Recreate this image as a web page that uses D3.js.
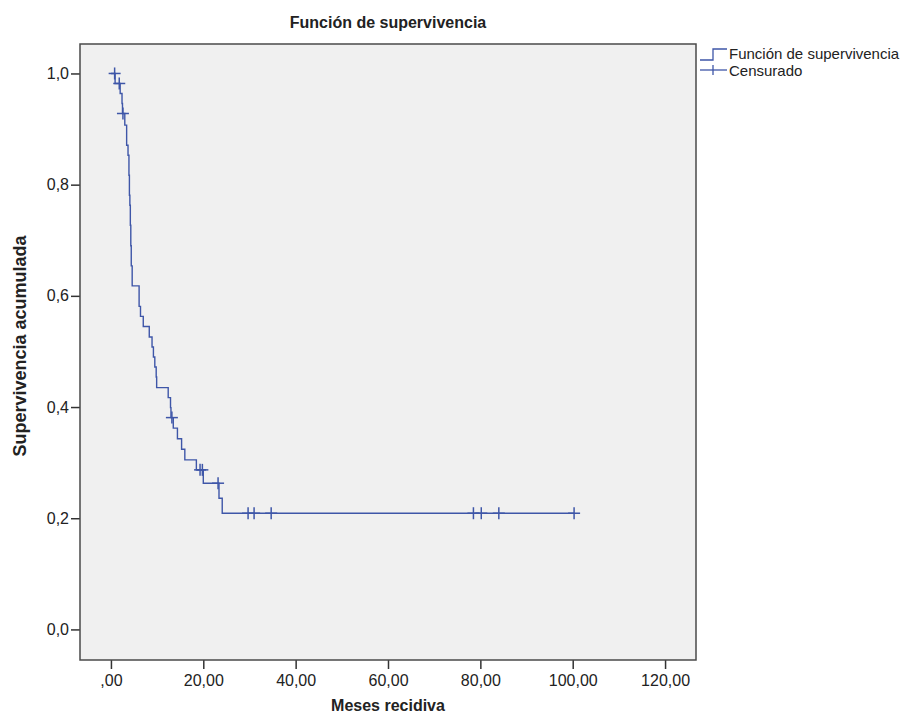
<!DOCTYPE html>
<html>
<head>
<meta charset="utf-8">
<script src="https://cdn.jsdelivr.net/npm/d3@7"></script>
<style>
  body { margin: 0; background: #fff; }
  text { font-family: "Liberation Sans", Arial, sans-serif; fill: #222; }
</style>
</head>
<body>
<div id="chart"></div>
<script>
// Kaplan-Meier steps: event time (months) and survival after it
var eventTimes = [0.9, 2.0, 2.4, 2.5, 3.0, 3.4, 3.7, 3.9, 4.0, 4.1, 4.2, 4.3, 4.4, 4.6,
                  6.1, 6.4, 7.0, 8.3, 8.9, 9.2, 9.5, 9.8, 9.9, 12.4, 12.9, 13.0,
                  13.5, 14.4, 15.3, 16.0, 18.5, 20.0, 23.4, 24.1];
var survival   = [0.982, 0.964, 0.946, 0.928, 0.907, 0.871, 0.853, 0.817, 0.781, 0.763, 0.727, 0.690, 0.654, 0.618,
                  0.581, 0.563, 0.545, 0.526, 0.508, 0.490, 0.472, 0.454, 0.435, 0.417, 0.399, 0.381,
                  0.362, 0.343, 0.324, 0.305, 0.287, 0.263, 0.236, 0.209];
// censored cases (months)
var censored = [0.8, 1.8, 2.6, 13.2, 19.3, 19.8, 23.2, 29.7, 31.0, 34.7, 78.5, 80.2, 84.0, 100.3];

var xTicks = [0, 20, 40, 60, 80, 100, 120];
var yTicks = [0, 0.2, 0.4, 0.6, 0.8, 1.0];

var margin = {top: 44, right: 223, bottom: 66, left: 80},
    width = 919 - margin.left - margin.right,
    height = 726 - margin.top - margin.bottom;

var lineColor = "#3e56a8";

var es = d3.formatLocale({decimal: ",", thousands: ".", grouping: [3], currency: ["", " €"]});

var x = d3.scaleLinear()
    .domain([-6.7, 126.7])
    .range([0, width]);

var y = d3.scaleLinear()
    .domain([-0.055, 1.053])
    .range([height, 0]);

// step data, starting at 1 and running out to the last censored case
var steps = [{t: 0, s: 1}];
eventTimes.forEach(function(t, i) {
  steps.push({t: t, s: survival[i]});
});
steps.push({t: d3.max(censored), s: survival[survival.length - 1]});

function survAt(t) {
  var i = d3.bisector(function(d) { return d.t; }).right(steps, t) - 1;
  return steps[Math.max(i, 0)].s;
}

var svg = d3.select("#chart").append("svg")
    .attr("width", 919)
    .attr("height", 726);

var graph = svg.append("g")
    .attr("transform", "translate(" + margin.left + "," + margin.top + ")");

// plot area
graph.append("rect")
    .attr("width", width)
    .attr("height", height)
    .attr("fill", "#f0f0f0");

// axes
var xAxis = graph.append("g")
    .attr("transform", "translate(0," + height + ")")
    .call(d3.axisBottom(x)
      .tickValues(xTicks)
      .tickSize(9)
      .tickSizeOuter(0)
      .tickPadding(6)
      .tickFormat(function(d) { return d === 0 ? ",00" : es.format(".2f")(d); }));

var yAxis = graph.append("g")
    .call(d3.axisLeft(y)
      .tickValues(yTicks)
      .tickSize(9)
      .tickSizeOuter(0)
      .tickPadding(2)
      .tickFormat(es.format(".1f")));

[xAxis, yAxis].forEach(function(a) {
  a.select(".domain").remove();
  a.selectAll("line").attr("stroke", "#333").attr("stroke-width", 1.5);
  a.selectAll("text").style("font-size", "16px").attr("fill", "#222");
});

// frame
graph.append("rect")
    .attr("width", width)
    .attr("height", height)
    .attr("fill", "none")
    .attr("stroke", "#4a4a4a")
    .attr("stroke-width", 1.5);

// survival curve
var line = d3.line()
    .curve(d3.curveStepAfter)
    .x(function(d) { return x(d.t); })
    .y(function(d) { return y(d.s); });

graph.append("path")
    .datum(steps)
    .attr("d", line)
    .attr("fill", "none")
    .attr("stroke", lineColor)
    .attr("stroke-width", 1.4);

// censor marks
var marks = graph.selectAll(".cens")
    .data(censored)
  .enter().append("g")
    .attr("class", "cens")
    .attr("transform", function(d) { return "translate(" + x(d) + "," + y(survAt(d)) + ")"; });

marks.append("line").attr("x1", -6).attr("x2", 6);
marks.append("line").attr("y1", -6).attr("y2", 6);
marks.selectAll("line")
    .attr("stroke", lineColor)
    .attr("stroke-width", 1.5);

// titles
svg.append("text")
    .attr("x", margin.left + width / 2)
    .attr("y", 28)
    .attr("text-anchor", "middle")
    .style("font-size", "16px")
    .style("font-weight", "bold")
    .text("Función de supervivencia");

svg.append("text")
    .attr("x", margin.left + width / 2)
    .attr("y", 711)
    .attr("text-anchor", "middle")
    .style("font-size", "16px")
    .style("font-weight", "bold")
    .text("Meses recidiva");

svg.append("text")
    .attr("transform", "translate(26," + (margin.top + height / 2 - 6) + ") rotate(-90)")
    .attr("text-anchor", "middle")
    .style("font-size", "18px")
    .style("font-weight", "bold")
    .text("Supervivencia acumulada");

// legend
var lg = svg.append("g")
    .attr("transform", "translate(" + (margin.left + width + 4) + ",0)");

lg.append("path")
    .attr("d", "M0,60H13V49H27")
    .attr("fill", "none")
    .attr("stroke", lineColor)
    .attr("stroke-width", 1.3);

lg.append("line").attr("x1", 0).attr("x2", 27).attr("y1", 70).attr("y2", 70);
lg.append("line").attr("x1", 13).attr("x2", 13).attr("y1", 65).attr("y2", 75);
lg.selectAll("line")
    .attr("stroke", lineColor)
    .attr("stroke-width", 1.3);

lg.append("text")
    .attr("x", 29)
    .attr("y", 59)
    .style("font-size", "15px")
    .text("Función de supervivencia");

lg.append("text")
    .attr("x", 29)
    .attr("y", 76)
    .style("font-size", "15px")
    .text("Censurado");
</script>
</body>
</html>
